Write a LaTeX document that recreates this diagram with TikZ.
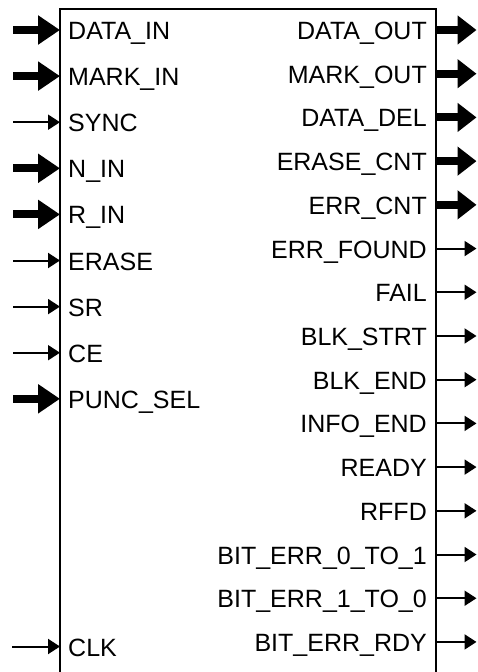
\documentclass[tikz,border=0pt]{standalone}
\usepackage{fontspec}
\setmainfont{Liberation Sans}
\usetikzlibrary{arrows.meta}
\begin{document}
\begin{tikzpicture}[x=1pt,y=-1pt,
  bigarrL/.style={line width=8pt, -{Triangle[length=22pt,width=28pt]}},
  bigarrR/.style={line width=8pt, -{Triangle[length=19pt,width=28pt]}},
  smallarr/.style={line width=2pt, -{Triangle[length=12pt,width=15pt]}},
  lbl/.style={font=\fontsize{25}{30}\selectfont, inner sep=0pt}]
\useasboundingbox (0,0) rectangle (477,672);
\clip (0,0) rectangle (477,672);
\node[draw, line width=2pt, minimum width=376pt, minimum height=720pt,
      anchor=north west, inner sep=0pt, outer sep=0pt] (box) at (60,9) {};
% inputs
\foreach \t/\s [count=\i from 0] in {DATA\_IN/bigarrL, MARK\_IN/bigarrL, SYNC/smallarr,
   N\_IN/bigarrL, R\_IN/bigarrL, ERASE/smallarr, SR/smallarr, CE/smallarr, PUNC\_SEL/bigarrL}{
  \pgfmathsetmacro\yy{30+46.1*\i}
  \coordinate (L\i) at (13,\yy);
  \node[lbl, anchor=base west] (LT\i) at (68,\yy+9.5) {\t};
  \draw[\s] (L\i) -- (L\i -| box.west);
}
\coordinate (Lclk) at (12,646.5);
\node[lbl, anchor=base west] (LTclk) at (68,656) {CLK};
\draw[smallarr] (Lclk) -- (Lclk -| box.west);
% outputs
\foreach \t/\s [count=\i from 0] in {DATA\_OUT/bigarrR, MARK\_OUT/bigarrR, DATA\_DEL/bigarrR,
   ERASE\_CNT/bigarrR, ERR\_CNT/bigarrR, ERR\_FOUND/smallarr, FAIL/smallarr, BLK\_STRT/smallarr,
   BLK\_END/smallarr, INFO\_END/smallarr, READY/smallarr, RFFD/smallarr,
   BIT\_ERR\_0\_TO\_1/smallarr, BIT\_ERR\_1\_TO\_0/smallarr, BIT\_ERR\_RDY/smallarr}{
  \pgfmathsetmacro\yy{30+43.71*\i}
  \coordinate (R\i) at (476.5,\yy);
  \node[lbl, anchor=base east] (RT\i) at (427,\yy+9.5) {\t};
  \draw[\s] (R\i -| box.east) -- (R\i);
}
\end{tikzpicture}
\end{document}
